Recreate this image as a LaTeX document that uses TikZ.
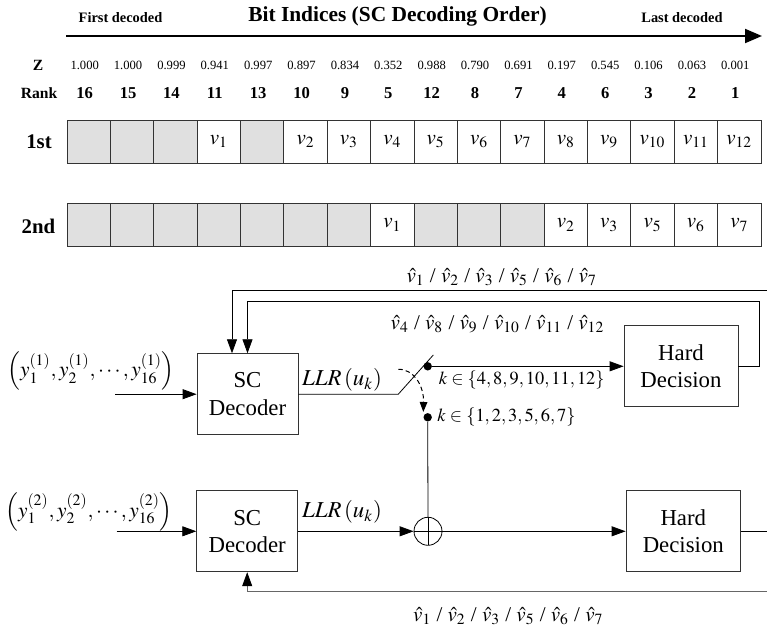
\documentclass[tikz,border=0pt]{standalone}
\usepackage{mathptmx}
\usepackage{fontspec}
\setmainfont{Liberation Serif}
\usetikzlibrary{arrows.meta}

\begin{document}
\begin{tikzpicture}[x=0.5pt, y=-0.5pt,
    cell/.style={draw=black!80, fill=white, minimum width=21.69pt, minimum height=21.67pt, inner sep=0pt, font=\fontsize{10.5}{12}\selectfont},
    frozen/.style={cell, fill=black!12},
    block/.style={draw=black!80, minimum width=50.5pt, minimum height=40.5pt, align=center, inner sep=0pt, font=\fontsize{11.4}{13.7}\selectfont},
    arr/.style={-{Triangle[length=7pt, width=5pt]}},
    dot/.style={circle, fill=black, minimum size=4.2pt, inner sep=0pt},
    xorc/.style={circle, draw, minimum size=14pt, inner sep=0pt, path picture={\draw (path picture bounding box.north) -- (path picture bounding box.south) (path picture bounding box.west) -- (path picture bounding box.east);}},
    hdr/.style={font=\bfseries\fontsize{7.2}{8}\selectfont},
    lbl/.style={font=\fontsize{10.5}{12}\selectfont},
    klbl/.style={font=\fontsize{9.2}{11}\selectfont}]

    \useasboundingbox (0,0) rectangle (767,626);

    \begin{scope}
        \node[hdr] (first) at (120.5,18) {First decoded};
        \node[font=\bfseries\fontsize{10.7}{12}\selectfont] (title) at (397.5,16) {Bit Indices (SC Decoding Order)};
        \node[hdr] (last) at (682,18) {Last decoded};
        \coordinate (ordL) at (66,36);
        \coordinate (ordR) at (762,36);
        \draw[line width=1pt, -{Triangle[length=8.5pt, width=7pt]}] (ordL) -- (ordR); % decoding order
    \end{scope}

    \begin{scope}
        \node[font=\bfseries\fontsize{7.8}{9}\selectfont] (zlab) at (38,65) {Z};
        \node[font=\bfseries\fontsize{7.8}{9}\selectfont] (ranklab) at (39,93) {Rank};
        \foreach \i/\z/\r in {1/1.000/16, 2/1.000/15, 3/0.999/14, 4/0.941/11, 5/0.997/13, 6/0.897/10, 7/0.834/9, 8/0.352/5,
                              9/0.988/12, 10/0.790/8, 11/0.691/7, 12/0.197/4, 13/0.545/6, 14/0.106/3, 15/0.063/2, 16/0.001/1} {
            \node[font=\fontsize{6.3}{7}\selectfont] (z\i) at ({63+43.375*(\i-.5)},65) {\z}; % Z value
            \node[font=\bfseries\fontsize{8.3}{9}\selectfont] (rk\i) at ({63+43.375*(\i-.5)},93) {\r}; % rank
        }
    \end{scope}

    \begin{scope}
        \node[font=\bfseries\fontsize{10.4}{12}\selectfont] (first1) at (39,142) {1st};
        \foreach \i/\s/\t in {1/frozen/{}, 2/frozen/{}, 3/frozen/{}, 4/cell/$v_{1}$, 5/frozen/{}, 6/cell/$v_{2}$, 7/cell/$v_{3}$, 8/cell/$v_{4}$,
                              9/cell/$v_{5}$, 10/cell/$v_{6}$, 11/cell/$v_{7}$, 12/cell/$v_{8}$, 13/cell/$v_{9}$, 14/cell/$v_{10}$, 15/cell/$v_{11}$, 16/cell/$v_{12}$}
            \node[\s] (ra\i) at ({67+43.375*(\i-.5)},141.7) {\t};

        \node[font=\bfseries\fontsize{10.4}{12}\selectfont] (second2) at (38.5,226) {2nd};
        \foreach \i/\s/\t in {1/frozen/{}, 2/frozen/{}, 3/frozen/{}, 4/frozen/{}, 5/frozen/{}, 6/frozen/{}, 7/frozen/{}, 8/cell/$v_{1}$,
                              9/frozen/{}, 10/frozen/{}, 11/frozen/{}, 12/cell/$v_{2}$, 13/cell/$v_{3}$, 14/cell/$v_{5}$, 15/cell/$v_{6}$, 16/cell/$v_{7}$}
            \node[\s] (rb\i) at ({67+43.375*(\i-.5)},225) {\t};
    \end{scope}

    % first decoder
    \node[block] (sc1) at (247.5,394.2) {SC\\Decoder};
    \node[block, minimum width=57pt] (hd1) at (681,366.3) {Hard\\Decision};
    \node[font=\fontsize{10.7}{12}\selectfont] (in1) at (91,371) {$\left(y_1^{(1)},y_2^{(1)},\cdots,y_{16}^{(1)}\right)$};
    \coordinate (in1s) at (115,394.2);
    \draw[arr] (in1s) -- (sc1.west);
    \node[font=\fontsize{11.4}{13}\selectfont] (llr1) at (342,380) {$LLR\left(u_k\right)$};

    % switch
    \coordinate (sw) at (398.3,394.2);
    \coordinate (swtip) at (433.3,355);
    \draw (sc1.east) -- (sw) -- (swtip);
    \node[dot] (d1) at (427.7,366.3) {};
    \node[dot] (d2) at (427.7,417.3) {};
    \draw[arr] (d1) -- (d1 -| hd1.west);
    \coordinate (arcS) at (398.3,369.3);
    \coordinate (arcE) at (423.3,412);
    \draw[line width=0.5pt, dash pattern=on 2.2pt off 1.6pt, -{Triangle[length=5pt, width=3.8pt]}] (arcS) .. controls (414,369) and (424,386) .. (arcE);
    \node[klbl] (k1) at (521.7,380) {$k\in\{4,8,9,10,11,12\}$};
    \node[klbl] (k2) at (506.5,417.3) {$k\in\{1,2,3,5,6,7\}$};

    % feedback to first decoder
    \coordinate (fb1R) at (767,290.7);
    \coordinate (fb1L) at (232,290.7);
    \draw[arr] (fb1R) -- (fb1L) -- (fb1L |- sc1.north);
    \coordinate (fb2) at (247.5,301.7);
    \draw[arr] (hd1.east) -- ++(20.5,0) |- (fb2) -- (sc1.north);
    \node[lbl] (vh1) at (501.7,277) {$\hat{v}_1$ / $\hat{v}_2$ / $\hat{v}_3$ / $\hat{v}_5$ / $\hat{v}_6$ / $\hat{v}_7$};
    \node[lbl] (vh2) at (497.5,324) {$\hat{v}_4$ / $\hat{v}_8$ / $\hat{v}_9$ / $\hat{v}_{10}$ / $\hat{v}_{11}$ / $\hat{v}_{12}$};

    % second decoder
    \node[block] (sc2) at (247.2,531.3) {SC\\Decoder};
    \node[block, minimum width=57.3pt] (hd2) at (683.3,531.3) {Hard\\Decision};
    \node[font=\fontsize{10.7}{12}\selectfont] (in2) at (89,511.7) {$\left(y_1^{(2)},y_2^{(2)},\cdots,y_{16}^{(2)}\right)$};
    \coordinate (in2s) at (116.7,531.3);
    \draw[arr] (in2s) -- (sc2.west);
    \node[font=\fontsize{11.4}{13}\selectfont] (llr2) at (342,511.7) {$LLR\left(u_k\right)$};
    \node[xorc] (xor) at (428,531.3) {};
    \draw (d2) -- (xor.north);
    \draw[arr] (sc2.east) -- (xor.west);
    \draw[arr] (xor.east) -- (hd2.west);
    \coordinate (out2) at (767,531.3);
    \draw (hd2.east) -- (out2);

    % feedback to second decoder
    \coordinate (fb3R) at (767,591);
    \draw[black!60, -{Triangle[length=7pt, width=5pt, color=black]}] (fb3R) -| (sc2.south);
    \node[lbl] (vh3) at (508.3,616) {$\hat{v}_1$ / $\hat{v}_2$ / $\hat{v}_3$ / $\hat{v}_5$ / $\hat{v}_6$ / $\hat{v}_7$};

\end{tikzpicture}
\end{document}
